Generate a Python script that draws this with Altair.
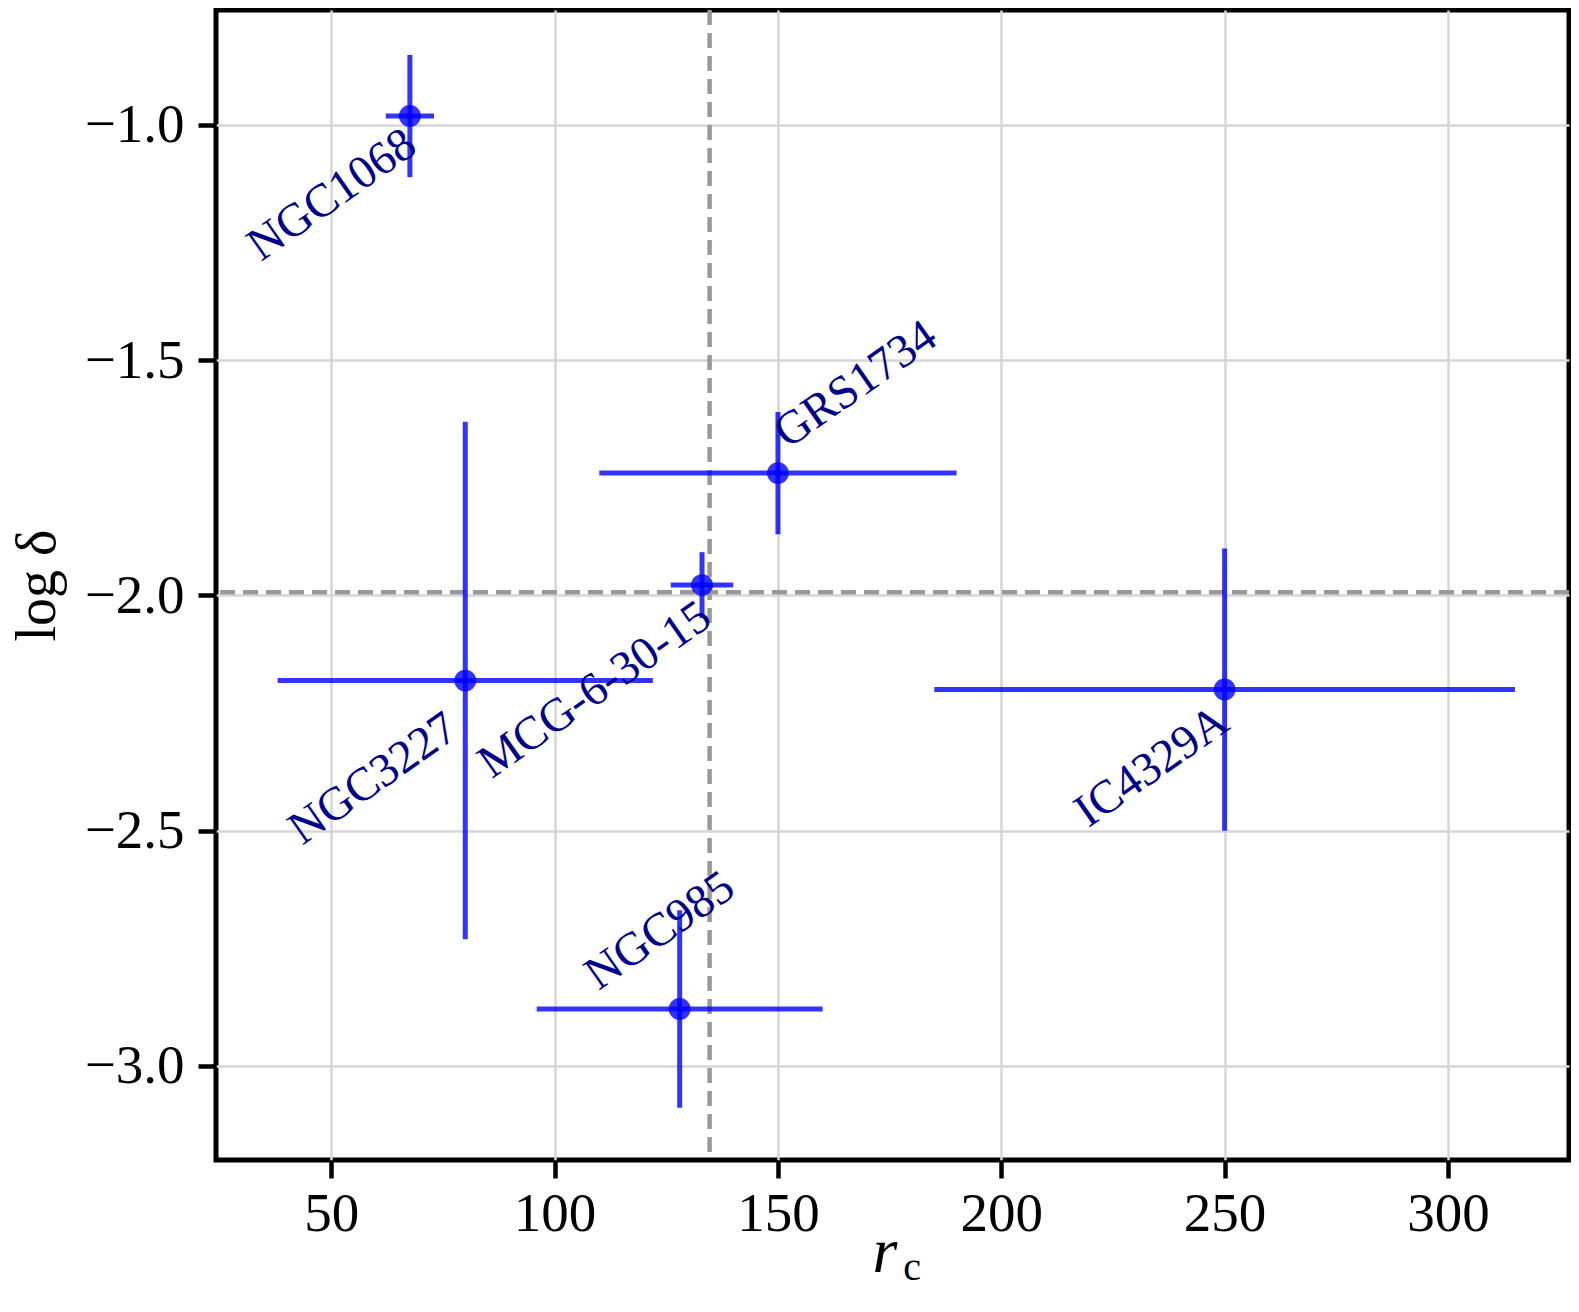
import altair as alt
import pandas as pd

# ---- data ----
names = ["NGC1068", "GRS1734", "MCG-6-30-15", "NGC3227", "IC4329A", "NGC985"]
r_c = [67.6, 150.0, 133.0, 80.0, 250.0, 128.0]
log_delta = [-0.981, -1.740, -1.978, -2.181, -2.200, -2.879]
r_c_err = [5.4, 40.0, 7.0, 42.0, 65.0, 32.0]
log_delta_err = [0.13, 0.13, 0.07, 0.55, 0.30, 0.21]
# label anchor (centre of rotated text), in data units
label_x = [50.2, 167.4, 109.0, 59.4, 233.7, 123.6]
label_y = [-1.149, -1.552, -2.201, -2.390, -2.364, -2.713]

ref_r_c = [134.7]
ref_log_delta = [-1.993]

x_ticks = [50, 100, 150, 200, 250, 300]
y_ticks = [-1.0, -1.5, -2.0, -2.5, -3.0]
x_domain = [24.19, 327.1]
y_domain = [-3.2, -0.7556]

df = pd.DataFrame({
    "name": names,
    "x": r_c,
    "y": log_delta,
    "x_lo": [a - b for a, b in zip(r_c, r_c_err)],
    "x_hi": [a + b for a, b in zip(r_c, r_c_err)],
    "y_lo": [a - b for a, b in zip(log_delta, log_delta_err)],
    "y_hi": [a + b for a, b in zip(log_delta, log_delta_err)],
    "lx": label_x,
    "ly": label_y,
})

FONT = "Liberation Serif"
BLUE = "#0000ff"

xs = alt.Scale(domain=x_domain, nice=False, zero=False)
ys = alt.Scale(domain=y_domain, nice=False, zero=False)

xaxis = alt.Axis(values=x_ticks, format="d", title=None, grid=True)
yaxis = alt.Axis(values=y_ticks, format=".1f", title="log δ", grid=True)

base = alt.Chart(df)

xerr = base.mark_rule(color=BLUE, opacity=0.8, strokeWidth=5).encode(
    x=alt.X("x_lo:Q", scale=xs, axis=xaxis),
    x2="x_hi:Q",
    y=alt.Y("y:Q", scale=ys, axis=yaxis),
)
yerr = base.mark_rule(color=BLUE, opacity=0.8, strokeWidth=5).encode(
    x=alt.X("x:Q", scale=xs),
    y=alt.Y("y_lo:Q", scale=ys),
    y2="y_hi:Q",
)
pts = base.mark_circle(color=BLUE, opacity=0.8, size=480).encode(
    x=alt.X("x:Q", scale=xs),
    y=alt.Y("y:Q", scale=ys),
)
labels = base.mark_text(
    font=FONT, fontSize=47, color="#00008b", angle=325,
    align="center", baseline="middle",
).encode(
    x=alt.X("lx:Q", scale=xs),
    y=alt.Y("ly:Q", scale=ys),
    text="name:N",
)

vline = alt.Chart(pd.DataFrame({"v": ref_r_c})).mark_rule(
    color="#999999", strokeWidth=4.5, strokeDash=[15, 8]
).encode(x=alt.X("v:Q", scale=xs))
hline = alt.Chart(pd.DataFrame({"h": ref_log_delta})).mark_rule(
    color="#999999", strokeWidth=4.5, strokeDash=[15, 8]
).encode(y=alt.Y("h:Q", scale=ys))

# x-axis title r_c (italic r with subscript c)
t_r = alt.Chart(pd.DataFrame({"t": ["r"]})).mark_text(
    font=FONT, fontSize=64, fontStyle="italic", align="center", baseline="alphabetic"
).encode(text="t:N", x=alt.value(669), y=alt.value(1262))
t_c = alt.Chart(pd.DataFrame({"t": ["c"]})).mark_text(
    font=FONT, fontSize=40, align="center", baseline="alphabetic"
).encode(text="t:N", x=alt.value(696), y=alt.value(1270))

chart = alt.layer(vline, hline, xerr, yerr, pts, labels, t_r, t_c).properties(
    width=1353, height=1150,
    autosize=alt.AutoSizeParams(type="none"),
    padding={"left": 208, "top": 2, "right": 2, "bottom": 130},
).configure_view(
    stroke="black", strokeWidth=5
).configure_axis(
    domain=False,
    ticks=True, tickColor="black", tickWidth=4.5, tickSize=18,
    labelFont=FONT, labelFontSize=55, labelColor="black",
    gridColor="#d6d6d6", gridWidth=2.5,
    titleFont=FONT, titleFontSize=56, titleFontWeight="normal", titleColor="black",
).configure_axisY(
    labelPadding=14, titlePadding=18,
).configure_axisX(
    labelPadding=9,
)

chart.save("out.html", embed_options={"renderer": "svg", "actions": False})
